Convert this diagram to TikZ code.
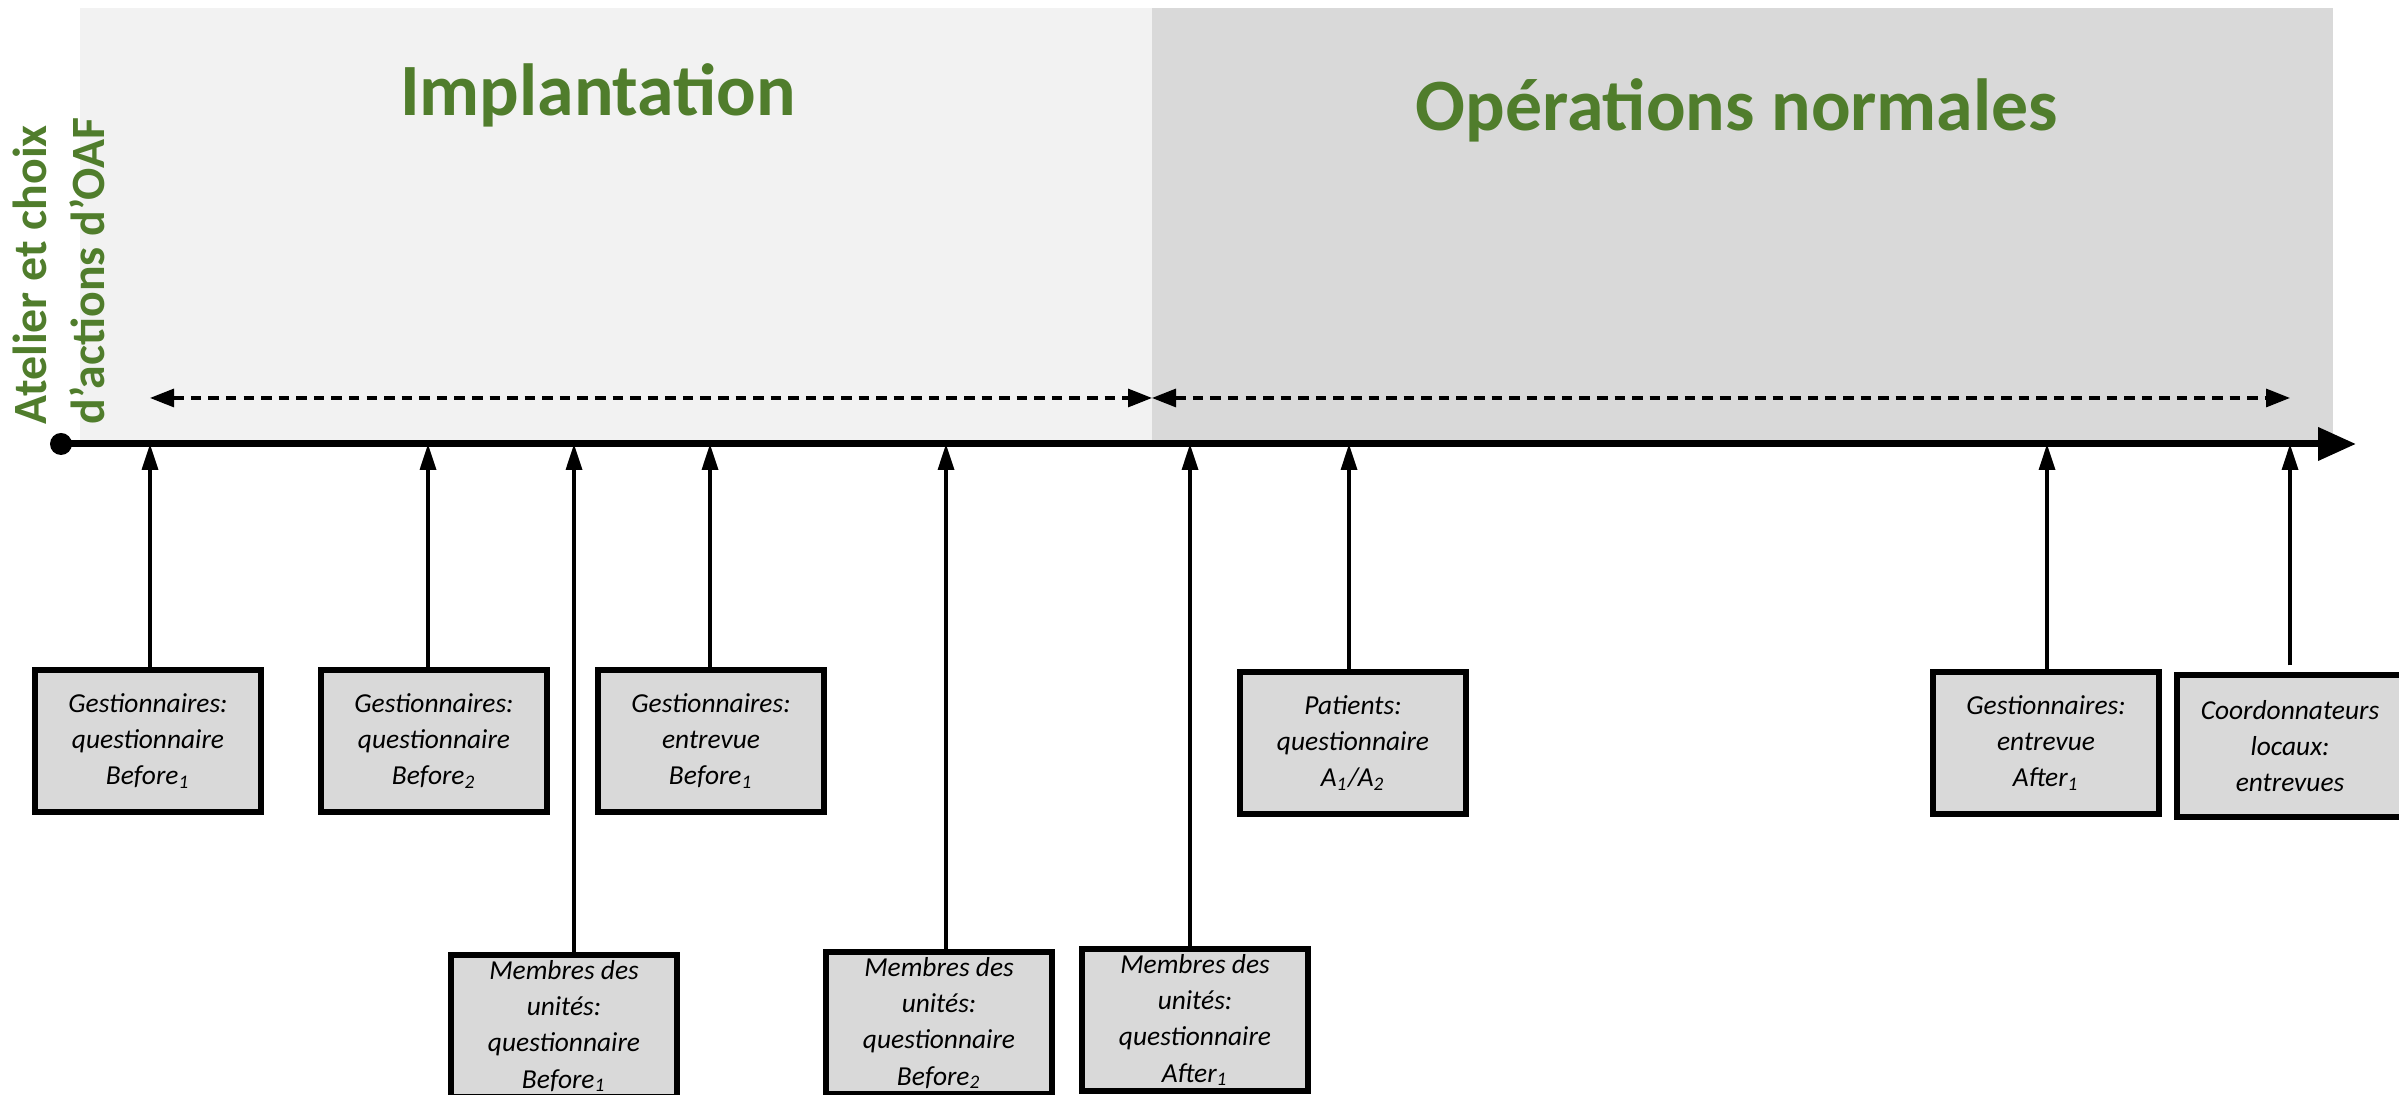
\documentclass[tikz,border=0pt]{standalone}
\usepackage{fontspec}
\setmainfont{Carlito}
\usetikzlibrary{arrows.meta}
\definecolor{titlegreen}{RGB}{80,125,44}
\definecolor{panellight}{RGB}{242,242,242}
\definecolor{paneldark}{RGB}{217,217,217}

\begin{document}
\begin{tikzpicture}[
    box/.style={draw, line width=1.5pt, fill=paneldark, minimum width=2.26cm, minimum height=1.42cm,
      align=center, inner sep=1pt, font=\fontsize{7.8}{10.3}\selectfont\itshape},
    tick/.style={line width=0.95pt, -{Triangle[length=2.6mm,width=1.6mm]}},
    span/.style={line width=0.9pt, dash pattern=on 3pt off 2pt,
      {Triangle[length=2.4mm,width=1.8mm]}-{Triangle[length=2.4mm,width=1.8mm]}},
    title/.style={text=titlegreen, font=\fontsize{21}{25}\selectfont\bfseries}
  ]
    \useasboundingbox (0,0) rectangle (23.99,10.95);

    % phases
    \fill[panellight] (0.80,6.51) rectangle (11.52,10.87);
    \fill[paneldark] (11.52,6.51) rectangle (23.33,10.87);
    \node[title] (impl) at (5.98,10.00) {Implantation};
    \node[title] (ops) at (17.37,9.85) {Opérations normales};

    % start label
    \node[rotate=90, anchor=west, align=left, inner sep=0pt, text=titlegreen,
      font=\fontsize{13.6}{16.5}\selectfont\bfseries] (start) at (0.59,6.70)
      {Atelier et choix\\d'actions d'OAF};

    % time axis
    \node[circle, fill=black, inner sep=0pt, minimum size=0.22cm] (t0) at (0.61,6.51) {};
    \coordinate (tend) at (23.56,6.51);
    \draw[line width=2pt, -{Triangle[length=0.38cm,width=0.32cm]}] (t0.center) -- (tend);

    % phase spans
    \coordinate (s0) at (1.50,6.97);
    \coordinate (s1) at (11.52,6.97);
    \coordinate (s2) at (22.90,6.97);
    \draw[span] (s0) -- (s1);
    \draw[span] (s1) -- (s2);

    % points on the axis
    \coordinate (t1) at (1.50,6.51);
    \coordinate (t2) at (4.28,6.51);
    \coordinate (t3) at (5.74,6.51);
    \coordinate (t4) at (7.10,6.51);
    \coordinate (t5) at (9.46,6.51);
    \coordinate (t6) at (11.90,6.51);
    \coordinate (t7) at (13.49,6.51);
    \coordinate (t8) at (20.47,6.51);
    \coordinate (t9) at (22.90,6.51);

    % data collections
    \node[box] (b1) at (1.48,3.54) {Gestionnaires:\\questionnaire\\Before\textsubscript{1}};
    \node[box] (b2) at (4.34,3.54) {Gestionnaires:\\questionnaire\\Before\textsubscript{2}};
    \node[box] (b3) at (5.64,0.69) {Membres des\\unités:\\questionnaire\\Before\textsubscript{1}};
    \node[box] (b4) at (7.11,3.54) {Gestionnaires:\\entrevue\\Before\textsubscript{1}};
    \node[box] (b5) at (9.39,0.72) {Membres des\\unités:\\questionnaire\\Before\textsubscript{2}};
    \node[box] (b6) at (11.95,0.75) {Membres des\\unités:\\questionnaire\\After\textsubscript{1}};
    \node[box] (b7) at (13.53,3.52) {Patients:\\questionnaire\\A\textsubscript{1}/A\textsubscript{2}};
    \node[box] (b8) at (20.46,3.52) {Gestionnaires:\\entrevue\\After\textsubscript{1}};
    \node[box] (b9) at (22.90,3.49) {Coordonnateurs\\locaux:\\entrevues};

    \draw[tick] (b1.north -| t1) -- (t1);
    \draw[tick] (b2.north -| t2) -- (t2);
    \draw[tick] (b3.north -| t3) -- (t3);
    \draw[tick] (b4.north -| t4) -- (t4);
    \draw[tick] (b5.north -| t5) -- (t5);
    \draw[tick] (b6.north -| t6) -- (t6);
    \draw[tick] (b7.north -| t7) -- (t7);
    \draw[tick] (b8.north -| t8) -- (t8);
    \draw[tick] ([yshift=2pt]b9.north -| t9) -- (t9);
  \end{tikzpicture}
\end{document}
